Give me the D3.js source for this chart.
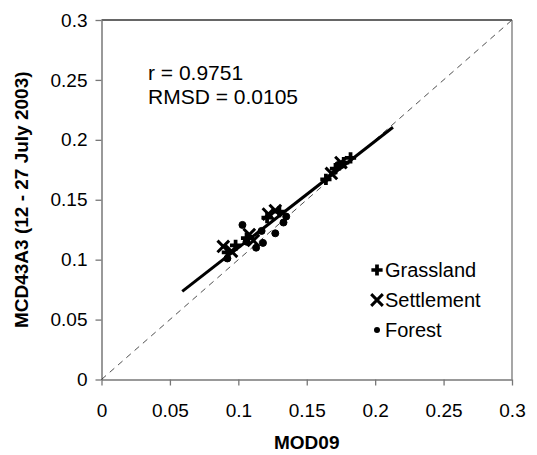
<!DOCTYPE html>
<html>
<head>
    <meta charset="utf-8">
    <title>MOD09 vs MCD43A3</title>
    <style>
        body { margin: 0; background: #fff; }
        text { font-family: Arial, "Liberation Sans", sans-serif; }
    </style>
</head>
<body>
    <script src='https://d3js.org/d3.v7.min.js'></script>
    <script>
    // Data
    const ticks = [0, 0.05, 0.1, 0.15, 0.2, 0.25, 0.3];
    const tickLabels = ["0", "0.05", "0.1", "0.15", "0.2", "0.25", "0.3"];

    const grassland = [
        [0.092, 0.106], [0.098, 0.112], [0.106, 0.118], [0.121, 0.135],
        [0.130, 0.140], [0.164, 0.167], [0.171, 0.176], [0.177, 0.181],
        [0.182, 0.185]
    ];
    const settlement = [
        [0.089, 0.111], [0.095, 0.107], [0.108, 0.121], [0.111, 0.116],
        [0.122, 0.138], [0.127, 0.141], [0.168, 0.172], [0.175, 0.181]
    ];
    const forest = [
        [0.092, 0.101], [0.103, 0.129], [0.106, 0.115], [0.113, 0.110],
        [0.118, 0.114], [0.117, 0.124], [0.127, 0.122], [0.133, 0.131],
        [0.135, 0.136], [0.173, 0.179]
    ];
    const fitLine = [[0.059, 0.0735], [0.213, 0.2105]];
    const oneToOne = [[0, 0], [0.3, 0.3]];
    const stats = ["r = 0.9751", "RMSD = 0.0105"];
    const legendItems = ["Grassland", "Settlement", "Forest"];

    const W = 537, H = 455;
    const pLeft = 101.5, pRight = 512, pTop = 20, pBottom = 379.5;

    const svg = d3.select("body").append("svg")
        .attr("width", W).attr("height", H);

    const x = d3.scaleLinear().domain([0, 0.3]).range([pLeft, pRight]);
    const y = d3.scaleLinear().domain([0, 0.3]).range([pBottom, pTop]);

    // frame
    svg.append("line").attr("x1", pLeft).attr("x2", pRight).attr("y1", pTop).attr("y2", pTop)
        .attr("stroke", "#333").attr("stroke-width", 1.3);
    svg.append("line").attr("x1", pRight).attr("x2", pRight).attr("y1", pTop).attr("y2", pBottom)
        .attr("stroke", "#777").attr("stroke-width", 1.3);

    // axes
    const xAxis = svg.append("g")
        .attr("transform", `translate(0,${pBottom})`)
        .call(d3.axisBottom(x).tickValues(ticks).tickFormat((d, i) => tickLabels[i]).tickSize(6).tickSizeOuter(0));
    const yAxis = svg.append("g")
        .attr("transform", `translate(${pLeft},0)`)
        .call(d3.axisLeft(y).tickValues(ticks).tickFormat((d, i) => tickLabels[i]).tickSize(6).tickSizeOuter(0));
    [xAxis, yAxis].forEach(g => {
        g.select(".domain").attr("stroke", "#777").attr("stroke-width", 1.5);
        g.selectAll(".tick line").attr("stroke", "#777").attr("stroke-width", 1.3);
        g.selectAll("text").attr("fill", "#000").style("font-size", "19px")
            .style("font-family", "Arial, 'Liberation Sans', sans-serif");
    });
    xAxis.selectAll("text").attr("y", 37).attr("dy", 0);
    yAxis.selectAll("text").attr("x", -14);

    const line = d3.line().x(d => x(d[0])).y(d => y(d[1]));

    // 1:1 line
    svg.append("path").datum(oneToOne)
        .attr("d", line).attr("fill", "none")
        .attr("stroke", "#222").attr("stroke-width", 0.8)
        .attr("stroke-dasharray", "6,5");

    // points
    const plus = d3.symbol().type(d3.symbolCross).size(70);
    const cross = d3.symbol().type(d3.symbolX).size(90);

    svg.selectAll(".grass").data(grassland).enter().append("path")
        .attr("d", plus).attr("fill", "#000")
        .attr("transform", d => `translate(${x(d[0])},${y(d[1])})`);

    svg.selectAll(".settle").data(settlement).enter().append("path")
        .attr("d", cross).attr("fill", "none").attr("stroke", "#000").attr("stroke-width", 3)
        .attr("transform", d => `translate(${x(d[0])},${y(d[1])})`);

    svg.selectAll(".forest").data(forest).enter().append("circle")
        .attr("cx", d => x(d[0])).attr("cy", d => y(d[1])).attr("r", 3.5)
        .attr("fill", "#000").attr("stroke", "#000").attr("stroke-width", 1);

    // regression line
    svg.append("path").datum(fitLine)
        .attr("d", line).attr("fill", "none")
        .attr("stroke", "#000").attr("stroke-width", 3);

    // stats text
    svg.selectAll(".stat").data(stats).enter().append("text")
        .attr("x", 148).attr("y", (d, i) => 80 + i * 24)
        .style("font-size", "21px").text(d => d);

    // legend
    const leg = svg.selectAll(".leg").data(legendItems).enter().append("g")
        .attr("transform", (d, i) => `translate(377,${270 + i * 30})`);
    leg.append("text").attr("x", 8).attr("y", 7).style("font-size", "20px").text(d => d);
    leg.filter((d, i) => i === 0).append("path")
        .attr("d", d3.symbol().type(d3.symbolCross).size(70)).attr("fill", "#000");
    leg.filter((d, i) => i === 1).append("path")
        .attr("d", d3.symbol().type(d3.symbolX).size(90))
        .attr("fill", "none").attr("stroke", "#000").attr("stroke-width", 3);
    leg.filter((d, i) => i === 2).append("circle")
        .attr("r", 3).attr("fill", "#000");

    // axis titles
    svg.append("text").attr("x", (pLeft + pRight) / 2).attr("y", 449)
        .attr("text-anchor", "middle").style("font-size", "19px").style("font-weight", "bold")
        .text("MOD09");
    svg.append("text")
        .attr("transform", `translate(28,${(pTop + pBottom) / 2}) rotate(-90)`)
        .attr("text-anchor", "middle").style("font-size", "19px").style("font-weight", "bold")
        .text("MCD43A3 (12 - 27 July 2003)");
    </script>
</body>
</html>
